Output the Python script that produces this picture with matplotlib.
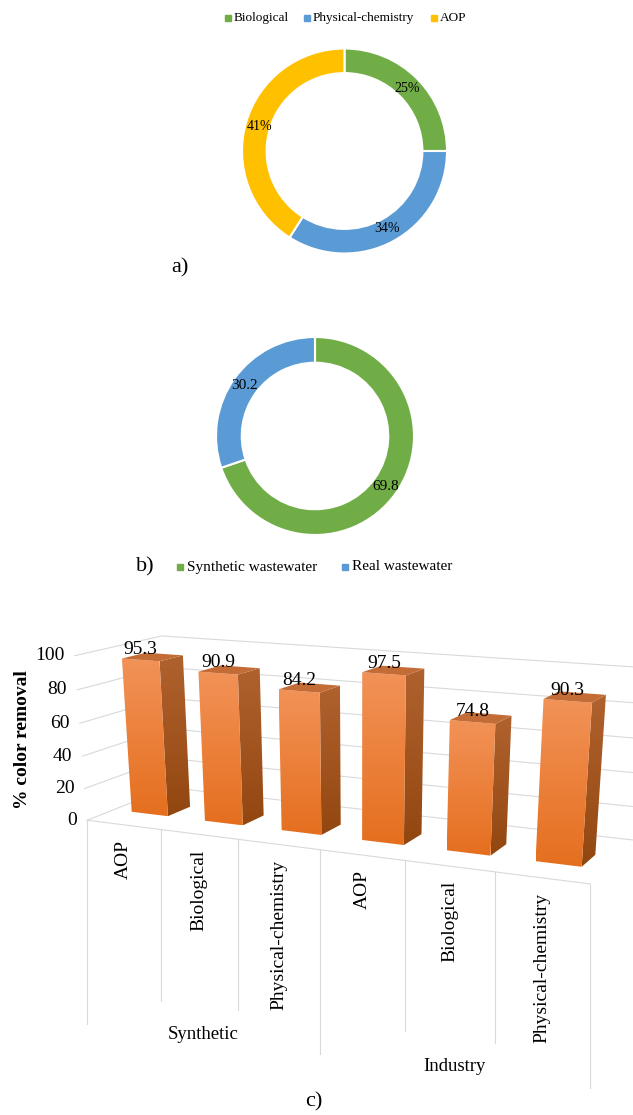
import numpy as np
import matplotlib
matplotlib.use("Agg")
import matplotlib.pyplot as plt
from matplotlib.patches import Polygon
from matplotlib.colors import LinearSegmentedColormap

plt.rcParams['font.family'] = ['Liberation Serif', 'DejaVu Serif']

# a) share of treatment methods
methods = ['Biological', 'Physical-chemistry', 'AOP']
method_share = [25, 34, 41]
method_colors = ['#70AD47', '#5B9BD5', '#FFC000']

# b) type of wastewater
water_types = ['Synthetic wastewater', 'Real wastewater']
water_share = [69.8, 30.2]
water_colors = ['#70AD47', '#5B9BD5']

# c) % colour removal
groups = ['Synthetic', 'Industry']
categories = ['AOP', 'Biological', 'Physical-chemistry',
              'AOP', 'Biological', 'Physical-chemistry']
removal = [95.3, 90.9, 84.2, 97.5, 74.8, 90.3]
y_ticks = [0, 20, 40, 60, 80, 100]

W, H = 633, 1115
fig = plt.figure(figsize=(W / 100, H / 100), dpi=100)
# full figure axes in pixel units, used for text and the 3d bar chart
base = fig.add_axes([0, 0, 1, 1])
base.axis('off')


def donut(cx, cy, R, vals, colors, width, fmt, fs, pd):
    s = 2.5 * R
    ax = fig.add_axes([(cx - s / 2) / W, (H - cy - s / 2) / H, s / W, s / H])
    ax.pie(vals, colors=colors, startangle=90, counterclock=False,
           autopct=fmt, pctdistance=pd,
           wedgeprops=dict(width=width, edgecolor='white', linewidth=1.5),
           textprops=dict(fontsize=fs))
    ax.set_xlim(-1.25, 1.25)
    ax.set_ylim(-1.25, 1.25)
    ax.set_aspect('equal')
    return ax


def legend_row(labels, colors, xs, y, fs, ms):
    for lab, col, x in zip(labels, colors, xs):
        base.plot([x], [y], marker='s', ms=ms, color=col, mec=col)
        base.text(x + ms * 1.4, y, lab, ha='left', va='center', fontsize=fs)


# ---- a) donut
donut(344.5, 151, 102.5, method_share, method_colors, 0.24,
      lambda p: '%.0f%%' % p, 10, 0.86)
legend_row(methods, method_colors, [228, 307, 434], 18, 9.5, 4)
base.text(180, 268, 'a)', ha='center', va='center', fontsize=16)

# ---- b) donut
donut(315, 436, 99, water_share, water_colors, 0.26,
      lambda p: '%.1f' % p, 11, 0.88)
legend_row(water_types, water_colors, [180, 345], 567, 11, 5)
base.text(145, 567, 'b)', ha='center', va='center', fontsize=16)

# ---- c) 3d columns, simple perspective camera
cam = np.array([9.67, -13.40, 4.175])
phi, theta = np.radians(-24.8), np.radians(23.05)
focal, px0, py0 = 1431, 360, 1037
r_vec = np.array([np.cos(phi), -np.sin(phi), 0])
d_vec = np.array([np.sin(phi) * np.cos(theta), np.cos(phi) * np.cos(theta), -np.sin(theta)])
u_vec = np.array([np.sin(phi) * np.sin(theta), np.cos(phi) * np.sin(theta), np.cos(theta)])
z_unit = 1.858 / 100  # height of 1 % in slot widths


def proj(x, y, z):
    v = np.array([x, y, z * z_unit]) - cam
    depth = v @ d_vec
    return px0 + focal * (v @ r_vec) / depth, py0 - focal * (v @ u_vec) / depth


n = len(categories)
per_group = n // len(groups)
floor_depth = 1.8
bar_x = (0.25, 0.75)
bar_y = (0.55, 1.05)
grid_kw = dict(color='#D9D9D9', lw=0.8, zorder=1)

# walls and gridlines
for t in y_ticks:
    pts = [proj(0, 0, t), proj(0, floor_depth, t), proj(n, floor_depth, t)]
    base.plot(*zip(*pts), **grid_kw)
    x, y = proj(0, 0, t)
    base.text(x - 10, y, str(t), ha='right', va='center', fontsize=14)

# category label box
fx0, fy0 = proj(0, 0, 0)
fx1, fy1 = proj(n, 0, 0)
base.plot([fx0, fx1], [fy0, fy1], **grid_kw)
for k in range(n + 1):
    x, y = proj(k, 0, 0)
    length = 204 if k % per_group == 0 else 171
    base.plot([x, x], [y, y + length], **grid_kw)

for i, name in enumerate(categories):
    x, y = proj(i + 0.5, 0, 0)
    base.text(x, y + 15, name, rotation=90, ha='center', va='top', fontsize=14)

for g, name in enumerate(groups):
    xa, ya = proj(g * per_group, 0, 0)
    xb, yb = proj((g + 1) * per_group, 0, 0)
    base.text((xa + xb) / 2, (ya + yb) / 2 + 200, name, ha='center', va='center', fontsize=13.5)

# bars
grad = np.linspace(0, 1, 64).reshape(-1, 1)
front_cmap = LinearSegmentedColormap.from_list('front', ['#F29257', '#E56F1F'])
side_cmap = LinearSegmentedColormap.from_list('side', ['#B0622E', '#934710'])


def shaded(pts, cmap, z):
    patch = Polygon(pts, closed=True, facecolor='none', edgecolor='none', zorder=z)
    base.add_patch(patch)
    xs, ys = zip(*pts)
    im = base.imshow(grad, cmap=cmap, aspect='auto', origin='upper',
                     extent=(min(xs), max(xs), max(ys), min(ys)),
                     interpolation='bilinear', zorder=z)
    im.set_clip_path(patch)


for i, v in enumerate(removal):
    x0, x1 = i + bar_x[0], i + bar_x[1]
    y0, y1 = bar_y
    front = [proj(x0, y0, 0), proj(x1, y0, 0), proj(x1, y0, v), proj(x0, y0, v)]
    side = [proj(x1, y0, 0), proj(x1, y1, 0), proj(x1, y1, v), proj(x1, y0, v)]
    top = [proj(x0, y0, v), proj(x1, y0, v), proj(x1, y1, v), proj(x0, y1, v)]
    zo = 2 + i
    shaded(side, side_cmap, zo)
    shaded(front, front_cmap, zo)
    base.add_patch(Polygon(top, closed=True, facecolor='#C46C35', edgecolor='none', zorder=zo))
    tx, ty = proj(i + 0.5, y0, v)
    base.text(tx, ty - 6, '%.1f' % v, ha='center', va='baseline', fontsize=14, zorder=20)

base.text(23, 740, '% color removal', rotation=90, ha='center', va='center',
          fontsize=14, fontweight='bold')
base.text(314, 1102, 'c)', ha='center', va='center', fontsize=16)

base.set_xlim(0, W)
base.set_ylim(H, 0)
fig.savefig('out.png', dpi=100)
